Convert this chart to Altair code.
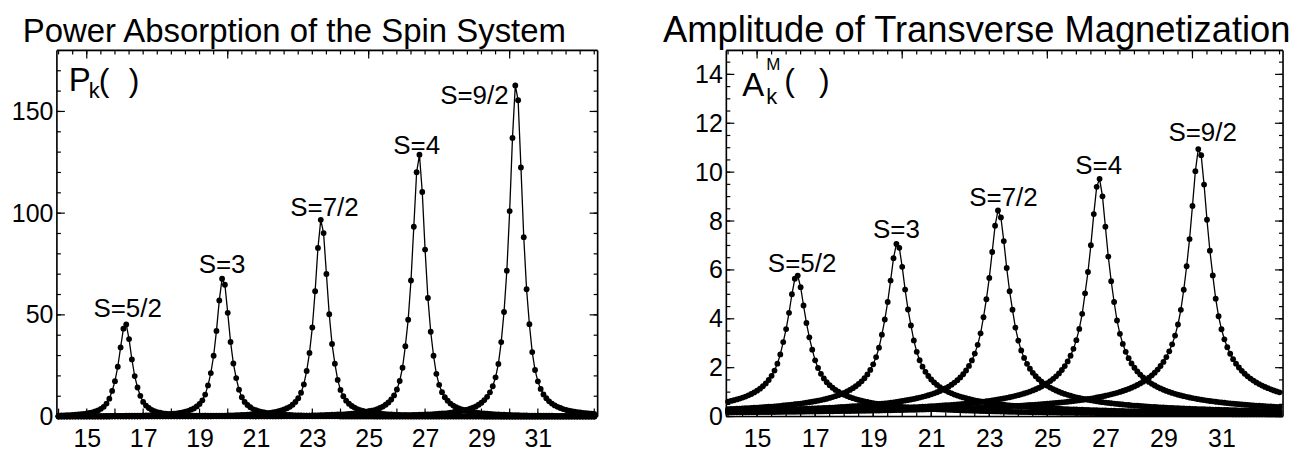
import altair as alt
import pandas as pd

# ---------------- data ----------------
X = [
    14.0, 14.1, 14.2, 14.3, 14.4, 14.5, 14.6, 14.7, 14.8, 14.9,
    15.0, 15.1, 15.2, 15.3, 15.4, 15.5, 15.6, 15.7, 15.8, 15.9,
    16.0, 16.1, 16.2, 16.3, 16.4, 16.5, 16.6, 16.7, 16.8, 16.9,
    17.0, 17.1, 17.2, 17.3, 17.4, 17.5, 17.6, 17.7, 17.8, 17.9,
    18.0, 18.1, 18.2, 18.3, 18.4, 18.5, 18.6, 18.7, 18.8, 18.9,
    19.0, 19.1, 19.2, 19.3, 19.4, 19.5, 19.6, 19.7, 19.8, 19.9,
    20.0, 20.1, 20.2, 20.3, 20.4, 20.5, 20.6, 20.7, 20.8, 20.9,
    21.0, 21.1, 21.2, 21.3, 21.4, 21.5, 21.6, 21.7, 21.8, 21.9,
    22.0, 22.1, 22.2, 22.3, 22.4, 22.5, 22.6, 22.7, 22.8, 22.9,
    23.0, 23.1, 23.2, 23.3, 23.4, 23.5, 23.6, 23.7, 23.8, 23.9,
    24.0, 24.1, 24.2, 24.3, 24.4, 24.5, 24.6, 24.7, 24.8, 24.9,
    25.0, 25.1, 25.2, 25.3, 25.4, 25.5, 25.6, 25.7, 25.8, 25.9,
    26.0, 26.1, 26.2, 26.3, 26.4, 26.5, 26.6, 26.7, 26.8, 26.9,
    27.0, 27.1, 27.2, 27.3, 27.4, 27.5, 27.6, 27.7, 27.8, 27.9,
    28.0, 28.1, 28.2, 28.3, 28.4, 28.5, 28.6, 28.7, 28.8, 28.9,
    29.0, 29.1, 29.2, 29.3, 29.4, 29.5, 29.6, 29.7, 29.8, 29.9,
    30.0, 30.1, 30.2, 30.3, 30.4, 30.5, 30.6, 30.7, 30.8, 30.9,
    31.0, 31.1, 31.2, 31.3, 31.4, 31.5, 31.6, 31.7, 31.8, 31.9,
    32.0, 32.1, 32.2, 32.3, 32.4, 32.5, 32.6, 32.7, 32.8, 32.9,
    33.0,
]

# Amplitude of transverse magnetization (right panel)
A_S52 = [
    0.612, 0.639, 0.668, 0.700, 0.736, 0.775, 0.819, 0.868, 0.924, 0.986,
    1.058, 1.142, 1.239, 1.355, 1.495, 1.667, 1.883, 2.164, 2.544, 3.046,
    3.578, 4.245, 5.004, 5.638, 5.769, 5.293, 4.544, 3.829, 3.243, 2.736,
    2.302, 1.986, 1.747, 1.559, 1.408, 1.283, 1.179, 1.090, 1.014, 0.948,
    0.890, 0.838, 0.792, 0.751, 0.714, 0.681, 0.650, 0.622, 0.597, 0.573,
    0.551, 0.531, 0.512, 0.495, 0.479, 0.463, 0.449, 0.435, 0.423, 0.411,
    0.399, 0.389, 0.379, 0.369, 0.360, 0.351, 0.343, 0.335, 0.327, 0.320,
    0.313, 0.307, 0.300, 0.294, 0.288, 0.283, 0.277, 0.272, 0.267, 0.262,
    0.258, 0.253, 0.249, 0.245, 0.240, 0.237, 0.233, 0.229, 0.226, 0.222,
    0.219, 0.215, 0.212, 0.209, 0.206, 0.203, 0.200, 0.198, 0.195, 0.192,
    0.190, 0.187, 0.185, 0.183, 0.181, 0.178, 0.176, 0.174, 0.172, 0.170,
    0.168, 0.166, 0.164, 0.162, 0.161, 0.159, 0.157, 0.155, 0.154, 0.152,
    0.150, 0.149, 0.147, 0.146, 0.145, 0.143, 0.142, 0.140, 0.139, 0.138,
    0.136, 0.135, 0.134, 0.133, 0.131, 0.130, 0.129, 0.128, 0.127, 0.126,
    0.125, 0.124, 0.123, 0.122, 0.121, 0.120, 0.119, 0.118, 0.117, 0.116,
    0.115, 0.114, 0.113, 0.112, 0.111, 0.110, 0.110, 0.109, 0.108, 0.107,
    0.106, 0.106, 0.105, 0.104, 0.103, 0.103, 0.102, 0.101, 0.101, 0.100,
    0.099, 0.099, 0.098, 0.097, 0.096, 0.096, 0.095, 0.095, 0.094, 0.093,
    0.093, 0.092, 0.092, 0.091, 0.090, 0.090, 0.089, 0.089, 0.088, 0.088,
    0.087,
]
A_S3 = [
    0.304, 0.310, 0.315, 0.321, 0.327, 0.333, 0.339, 0.346, 0.353, 0.360,
    0.367, 0.375, 0.383, 0.392, 0.401, 0.410, 0.420, 0.430, 0.440, 0.452,
    0.463, 0.476, 0.489, 0.503, 0.517, 0.533, 0.550, 0.567, 0.586, 0.606,
    0.627, 0.650, 0.675, 0.702, 0.730, 0.762, 0.796, 0.833, 0.874, 0.920,
    0.970, 1.026, 1.089, 1.160, 1.241, 1.335, 1.443, 1.571, 1.723, 1.909,
    2.139, 2.432, 2.817, 3.349, 3.970, 4.687, 5.563, 6.479, 7.062, 6.902,
    6.125, 5.196, 4.380, 3.728, 3.114, 2.649, 2.305, 2.040, 1.830, 1.659,
    1.517, 1.398, 1.296, 1.207, 1.131, 1.063, 1.003, 0.949, 0.901, 0.857,
    0.818, 0.782, 0.749, 0.719, 0.691, 0.665, 0.641, 0.618, 0.598, 0.578,
    0.560, 0.543, 0.527, 0.512, 0.497, 0.484, 0.471, 0.459, 0.447, 0.436,
    0.426, 0.416, 0.406, 0.397, 0.388, 0.380, 0.372, 0.364, 0.357, 0.350,
    0.343, 0.337, 0.331, 0.324, 0.319, 0.313, 0.308, 0.302, 0.297, 0.292,
    0.288, 0.283, 0.279, 0.274, 0.270, 0.266, 0.262, 0.258, 0.255, 0.251,
    0.248, 0.244, 0.241, 0.238, 0.234, 0.231, 0.228, 0.226, 0.223, 0.220,
    0.217, 0.215, 0.212, 0.210, 0.207, 0.205, 0.202, 0.200, 0.198, 0.196,
    0.194, 0.191, 0.189, 0.187, 0.185, 0.184, 0.182, 0.180, 0.178, 0.176,
    0.175, 0.173, 0.171, 0.170, 0.168, 0.166, 0.165, 0.163, 0.162, 0.160,
    0.159, 0.157, 0.156, 0.155, 0.153, 0.152, 0.151, 0.150, 0.148, 0.147,
    0.146, 0.145, 0.143, 0.142, 0.141, 0.140, 0.139, 0.138, 0.137, 0.136,
    0.135,
]
A_S72 = [
    0.227, 0.229, 0.232, 0.234, 0.237, 0.240, 0.242, 0.245, 0.248, 0.251,
    0.254, 0.257, 0.260, 0.263, 0.267, 0.270, 0.274, 0.277, 0.281, 0.285,
    0.289, 0.293, 0.297, 0.301, 0.305, 0.310, 0.314, 0.319, 0.324, 0.329,
    0.334, 0.340, 0.345, 0.351, 0.357, 0.363, 0.369, 0.376, 0.383, 0.390,
    0.397, 0.405, 0.413, 0.421, 0.429, 0.438, 0.448, 0.457, 0.467, 0.478,
    0.489, 0.501, 0.513, 0.525, 0.539, 0.553, 0.568, 0.584, 0.600, 0.618,
    0.636, 0.656, 0.677, 0.699, 0.723, 0.749, 0.777, 0.806, 0.838, 0.873,
    0.911, 0.952, 0.996, 1.046, 1.100, 1.161, 1.228, 1.304, 1.390, 1.488,
    1.600, 1.732, 1.886, 2.071, 2.296, 2.576, 2.934, 3.407, 4.063, 4.801,
    5.674, 6.732, 7.808, 8.430, 8.146, 7.179, 6.079, 5.127, 4.369, 3.642,
    3.107, 2.708, 2.401, 2.156, 1.956, 1.790, 1.650, 1.531, 1.427, 1.337,
    1.257, 1.187, 1.124, 1.067, 1.016, 0.969, 0.927, 0.888, 0.852, 0.819,
    0.788, 0.760, 0.733, 0.709, 0.686, 0.664, 0.644, 0.625, 0.607, 0.590,
    0.574, 0.559, 0.544, 0.531, 0.518, 0.505, 0.494, 0.482, 0.472, 0.461,
    0.451, 0.442, 0.433, 0.424, 0.416, 0.408, 0.400, 0.393, 0.385, 0.379,
    0.372, 0.365, 0.359, 0.353, 0.347, 0.342, 0.336, 0.331, 0.326, 0.321,
    0.316, 0.312, 0.307, 0.303, 0.298, 0.294, 0.290, 0.286, 0.282, 0.279,
    0.275, 0.272, 0.268, 0.265, 0.261, 0.258, 0.255, 0.252, 0.249, 0.246,
    0.243, 0.241, 0.238, 0.235, 0.233, 0.230, 0.228, 0.225, 0.223, 0.221,
    0.218,
]
A_S4 = [
    0.191, 0.192, 0.194, 0.195, 0.197, 0.198, 0.200, 0.202, 0.203, 0.205,
    0.207, 0.209, 0.210, 0.212, 0.214, 0.216, 0.218, 0.220, 0.222, 0.224,
    0.226, 0.228, 0.230, 0.233, 0.235, 0.237, 0.239, 0.242, 0.244, 0.247,
    0.249, 0.252, 0.254, 0.257, 0.260, 0.263, 0.266, 0.268, 0.271, 0.274,
    0.278, 0.281, 0.284, 0.287, 0.291, 0.294, 0.298, 0.302, 0.305, 0.309,
    0.313, 0.317, 0.322, 0.326, 0.330, 0.335, 0.339, 0.344, 0.349, 0.354,
    0.360, 0.365, 0.370, 0.376, 0.382, 0.388, 0.394, 0.401, 0.408, 0.415,
    0.422, 0.429, 0.437, 0.445, 0.453, 0.462, 0.471, 0.480, 0.489, 0.499,
    0.510, 0.521, 0.532, 0.544, 0.557, 0.570, 0.583, 0.597, 0.612, 0.628,
    0.645, 0.662, 0.681, 0.700, 0.721, 0.743, 0.767, 0.791, 0.818, 0.846,
    0.877, 0.910, 0.945, 0.983, 1.024, 1.069, 1.118, 1.172, 1.231, 1.297,
    1.369, 1.451, 1.543, 1.647, 1.766, 1.904, 2.066, 2.257, 2.487, 2.770,
    3.125, 3.585, 4.203, 5.042, 5.915, 7.014, 8.284, 9.399, 9.727, 9.009,
    7.768, 6.547, 5.540, 4.688, 3.931, 3.385, 2.973, 2.649, 2.390, 2.176,
    1.998, 1.847, 1.717, 1.604, 1.505, 1.417, 1.339, 1.270, 1.207, 1.150,
    1.098, 1.051, 1.007, 0.967, 0.930, 0.896, 0.864, 0.835, 0.807, 0.781,
    0.757, 0.734, 0.713, 0.692, 0.673, 0.655, 0.638, 0.622, 0.606, 0.592,
    0.578, 0.564, 0.551, 0.539, 0.528, 0.516, 0.506, 0.495, 0.486, 0.476,
    0.467, 0.458, 0.450, 0.442, 0.434, 0.426, 0.419, 0.412, 0.405, 0.398,
    0.392,
]
A_S92 = [
    0.169, 0.170, 0.172, 0.173, 0.174, 0.175, 0.176, 0.177, 0.178, 0.179,
    0.181, 0.182, 0.183, 0.184, 0.185, 0.187, 0.188, 0.189, 0.191, 0.192,
    0.193, 0.195, 0.196, 0.197, 0.199, 0.200, 0.202, 0.203, 0.205, 0.206,
    0.208, 0.209, 0.211, 0.213, 0.214, 0.216, 0.218, 0.219, 0.221, 0.223,
    0.225, 0.227, 0.229, 0.231, 0.232, 0.234, 0.236, 0.239, 0.241, 0.243,
    0.245, 0.247, 0.249, 0.252, 0.254, 0.256, 0.259, 0.261, 0.264, 0.266,
    0.269, 0.271, 0.274, 0.277, 0.280, 0.283, 0.286, 0.289, 0.292, 0.295,
    0.298, 0.301, 0.305, 0.308, 0.311, 0.315, 0.319, 0.322, 0.326, 0.330,
    0.334, 0.338, 0.342, 0.347, 0.351, 0.356, 0.360, 0.365, 0.370, 0.375,
    0.380, 0.386, 0.391, 0.397, 0.403, 0.409, 0.415, 0.421, 0.428, 0.434,
    0.441, 0.449, 0.456, 0.464, 0.472, 0.480, 0.488, 0.497, 0.506, 0.516,
    0.526, 0.536, 0.547, 0.558, 0.569, 0.581, 0.594, 0.607, 0.621, 0.635,
    0.650, 0.666, 0.682, 0.700, 0.718, 0.737, 0.758, 0.779, 0.802, 0.826,
    0.851, 0.879, 0.908, 0.939, 0.972, 1.007, 1.046, 1.087, 1.132, 1.180,
    1.233, 1.291, 1.355, 1.425, 1.503, 1.590, 1.687, 1.797, 1.923, 2.068,
    2.236, 2.434, 2.670, 2.957, 3.313, 3.767, 4.365, 5.189, 6.151, 7.261,
    8.619, 10.038, 10.942, 10.693, 9.490, 8.051, 6.786, 5.776, 4.825, 4.104,
    3.571, 3.161, 2.835, 2.570, 2.350, 2.165, 2.007, 1.871, 1.752, 1.647,
    1.554, 1.471, 1.396, 1.329, 1.267, 1.211, 1.160, 1.113, 1.070, 1.030,
    0.993,
]

# Power absorption (left panel)
P_S52 = [
    0.5, 0.6, 0.6, 0.7, 0.7, 0.8, 0.9, 1.0, 1.2, 1.3,
    1.5, 1.8, 2.1, 2.5, 3.0, 3.8, 4.8, 6.4, 8.8, 12.6,
    17.4, 24.5, 34.0, 43.2, 45.3, 38.1, 28.1, 19.9, 14.3, 10.2,
    7.2, 5.4, 4.2, 3.3, 2.7, 2.2, 1.9, 1.6, 1.4, 1.2,
    1.1, 1.0, 0.9, 0.8, 0.7, 0.6, 0.6, 0.5, 0.5, 0.4,
    0.4, 0.4, 0.4, 0.3, 0.3, 0.3, 0.3, 0.3, 0.2, 0.2,
    0.2, 0.2, 0.2, 0.2, 0.2, 0.2, 0.2, 0.2, 0.1, 0.1,
    0.1, 0.1, 0.1, 0.1, 0.1, 0.1, 0.1, 0.1, 0.1, 0.1,
    0.1, 0.1, 0.1, 0.1, 0.1, 0.1, 0.1, 0.1, 0.1, 0.1,
    0.1, 0.1, 0.1, 0.1, 0.1, 0.1, 0.1, 0.1, 0.1, 0.1,
    0, 0, 0, 0, 0, 0, 0, 0, 0, 0,
    0, 0, 0, 0, 0, 0, 0, 0, 0, 0,
    0, 0, 0, 0, 0, 0, 0, 0, 0, 0,
    0, 0, 0, 0, 0, 0, 0, 0, 0, 0,
    0, 0, 0, 0, 0, 0, 0, 0, 0, 0,
    0, 0, 0, 0, 0, 0, 0, 0, 0, 0,
    0, 0, 0, 0, 0, 0, 0, 0, 0, 0,
    0, 0, 0, 0, 0, 0, 0, 0, 0, 0,
    0, 0, 0, 0, 0, 0, 0, 0, 0, 0,
    0,
]
P_S3 = [
    0.1, 0.1, 0.1, 0.1, 0.1, 0.2, 0.2, 0.2, 0.2, 0.2,
    0.2, 0.2, 0.2, 0.2, 0.2, 0.2, 0.2, 0.3, 0.3, 0.3,
    0.3, 0.3, 0.3, 0.3, 0.4, 0.4, 0.4, 0.4, 0.5, 0.5,
    0.5, 0.6, 0.6, 0.7, 0.7, 0.8, 0.9, 0.9, 1.0, 1.2,
    1.3, 1.4, 1.6, 1.8, 2.1, 2.4, 2.8, 3.4, 4.0, 5.0,
    6.2, 8.0, 10.8, 15.3, 21.4, 29.9, 42.1, 57.1, 67.8, 64.8,
    51.0, 36.7, 26.1, 18.9, 13.2, 9.5, 7.2, 5.7, 4.6, 3.7,
    3.1, 2.7, 2.3, 2.0, 1.7, 1.5, 1.4, 1.2, 1.1, 1.0,
    0.9, 0.8, 0.8, 0.7, 0.6, 0.6, 0.6, 0.5, 0.5, 0.5,
    0.4, 0.4, 0.4, 0.4, 0.3, 0.3, 0.3, 0.3, 0.3, 0.3,
    0.2, 0.2, 0.2, 0.2, 0.2, 0.2, 0.2, 0.2, 0.2, 0.2,
    0.2, 0.2, 0.1, 0.1, 0.1, 0.1, 0.1, 0.1, 0.1, 0.1,
    0.1, 0.1, 0.1, 0.1, 0.1, 0.1, 0.1, 0.1, 0.1, 0.1,
    0.1, 0.1, 0.1, 0.1, 0.1, 0.1, 0.1, 0.1, 0.1, 0.1,
    0.1, 0.1, 0.1, 0.1, 0.1, 0.1, 0.1, 0.1, 0.1, 0.1,
    0.1, 0, 0, 0, 0, 0, 0, 0, 0, 0,
    0, 0, 0, 0, 0, 0, 0, 0, 0, 0,
    0, 0, 0, 0, 0, 0, 0, 0, 0, 0,
    0, 0, 0, 0, 0, 0, 0, 0, 0, 0,
    0,
]
P_S72 = [
    0.1, 0.1, 0.1, 0.1, 0.1, 0.1, 0.1, 0.1, 0.1, 0.1,
    0.1, 0.1, 0.1, 0.1, 0.1, 0.1, 0.1, 0.1, 0.1, 0.1,
    0.1, 0.1, 0.1, 0.1, 0.1, 0.1, 0.1, 0.1, 0.1, 0.1,
    0.2, 0.2, 0.2, 0.2, 0.2, 0.2, 0.2, 0.2, 0.2, 0.2,
    0.2, 0.2, 0.2, 0.2, 0.3, 0.3, 0.3, 0.3, 0.3, 0.3,
    0.3, 0.3, 0.4, 0.4, 0.4, 0.4, 0.4, 0.5, 0.5, 0.5,
    0.6, 0.6, 0.6, 0.7, 0.7, 0.8, 0.8, 0.9, 1.0, 1.0,
    1.1, 1.2, 1.4, 1.5, 1.6, 1.8, 2.1, 2.3, 2.6, 3.0,
    3.5, 4.1, 4.8, 5.8, 7.2, 9.0, 11.7, 15.8, 22.4, 31.3,
    43.8, 61.6, 82.9, 96.7, 90.2, 70.1, 50.3, 35.7, 26.0, 18.0,
    13.1, 10.0, 7.8, 6.3, 5.2, 4.4, 3.7, 3.2, 2.8, 2.4,
    2.2, 1.9, 1.7, 1.5, 1.4, 1.3, 1.2, 1.1, 1.0, 0.9,
    0.8, 0.8, 0.7, 0.7, 0.6, 0.6, 0.6, 0.5, 0.5, 0.5,
    0.4, 0.4, 0.4, 0.4, 0.4, 0.3, 0.3, 0.3, 0.3, 0.3,
    0.3, 0.3, 0.3, 0.2, 0.2, 0.2, 0.2, 0.2, 0.2, 0.2,
    0.2, 0.2, 0.2, 0.2, 0.2, 0.2, 0.2, 0.1, 0.1, 0.1,
    0.1, 0.1, 0.1, 0.1, 0.1, 0.1, 0.1, 0.1, 0.1, 0.1,
    0.1, 0.1, 0.1, 0.1, 0.1, 0.1, 0.1, 0.1, 0.1, 0.1,
    0.1, 0.1, 0.1, 0.1, 0.1, 0.1, 0.1, 0.1, 0.1, 0.1,
    0.1,
]
P_S4 = [
    0, 0.1, 0.1, 0.1, 0.1, 0.1, 0.1, 0.1, 0.1, 0.1,
    0.1, 0.1, 0.1, 0.1, 0.1, 0.1, 0.1, 0.1, 0.1, 0.1,
    0.1, 0.1, 0.1, 0.1, 0.1, 0.1, 0.1, 0.1, 0.1, 0.1,
    0.1, 0.1, 0.1, 0.1, 0.1, 0.1, 0.1, 0.1, 0.1, 0.1,
    0.1, 0.1, 0.1, 0.1, 0.1, 0.1, 0.1, 0.1, 0.1, 0.1,
    0.1, 0.1, 0.1, 0.1, 0.1, 0.2, 0.2, 0.2, 0.2, 0.2,
    0.2, 0.2, 0.2, 0.2, 0.2, 0.2, 0.2, 0.2, 0.2, 0.2,
    0.2, 0.3, 0.3, 0.3, 0.3, 0.3, 0.3, 0.3, 0.3, 0.3,
    0.4, 0.4, 0.4, 0.4, 0.4, 0.4, 0.5, 0.5, 0.5, 0.5,
    0.6, 0.6, 0.6, 0.7, 0.7, 0.8, 0.8, 0.9, 0.9, 1.0,
    1.0, 1.1, 1.2, 1.3, 1.4, 1.6, 1.7, 1.9, 2.1, 2.3,
    2.6, 2.9, 3.2, 3.7, 4.2, 4.9, 5.8, 6.9, 8.4, 10.4,
    13.3, 17.5, 24.0, 34.6, 47.6, 66.9, 93.3, 120.1, 128.7, 110.4,
    82.1, 58.3, 41.7, 29.9, 21.0, 15.6, 12.0, 9.5, 7.8, 6.4,
    5.4, 4.6, 4.0, 3.5, 3.1, 2.7, 2.4, 2.2, 2.0, 1.8,
    1.6, 1.5, 1.4, 1.3, 1.2, 1.1, 1.0, 0.9, 0.9, 0.8,
    0.8, 0.7, 0.7, 0.7, 0.6, 0.6, 0.6, 0.5, 0.5, 0.5,
    0.5, 0.4, 0.4, 0.4, 0.4, 0.4, 0.3, 0.3, 0.3, 0.3,
    0.3, 0.3, 0.3, 0.3, 0.3, 0.2, 0.2, 0.2, 0.2, 0.2,
    0.2,
]
P_S92 = [
    0, 0, 0, 0, 0, 0, 0, 0, 0, 0,
    0, 0, 0, 0, 0, 0, 0, 0, 0, 0.1,
    0.1, 0.1, 0.1, 0.1, 0.1, 0.1, 0.1, 0.1, 0.1, 0.1,
    0.1, 0.1, 0.1, 0.1, 0.1, 0.1, 0.1, 0.1, 0.1, 0.1,
    0.1, 0.1, 0.1, 0.1, 0.1, 0.1, 0.1, 0.1, 0.1, 0.1,
    0.1, 0.1, 0.1, 0.1, 0.1, 0.1, 0.1, 0.1, 0.1, 0.1,
    0.1, 0.1, 0.1, 0.1, 0.1, 0.1, 0.1, 0.1, 0.1, 0.1,
    0.1, 0.1, 0.1, 0.1, 0.1, 0.1, 0.1, 0.1, 0.1, 0.1,
    0.2, 0.2, 0.2, 0.2, 0.2, 0.2, 0.2, 0.2, 0.2, 0.2,
    0.2, 0.2, 0.2, 0.2, 0.2, 0.2, 0.2, 0.2, 0.2, 0.3,
    0.3, 0.3, 0.3, 0.3, 0.3, 0.3, 0.3, 0.3, 0.3, 0.4,
    0.4, 0.4, 0.4, 0.4, 0.4, 0.5, 0.5, 0.5, 0.5, 0.5,
    0.6, 0.6, 0.6, 0.7, 0.7, 0.7, 0.8, 0.8, 0.9, 0.9,
    1.0, 1.0, 1.1, 1.2, 1.3, 1.4, 1.5, 1.6, 1.7, 1.9,
    2.1, 2.3, 2.5, 2.8, 3.1, 3.4, 3.9, 4.4, 5.0, 5.8,
    6.8, 8.1, 9.7, 11.9, 14.9, 19.3, 25.9, 36.6, 51.4, 71.7,
    101.0, 137.0, 162.8, 155.5, 122.5, 88.2, 62.6, 45.4, 31.7, 22.9,
    17.3, 13.6, 10.9, 9.0, 7.5, 6.4, 5.5, 4.8, 4.2, 3.7,
    3.3, 2.9, 2.7, 2.4, 2.2, 2.0, 1.8, 1.7, 1.6, 1.4,
    1.3,
]

CURVES = ["S=5/2", "S=3", "S=7/2", "S=4", "S=9/2"]
A_SERIES = [A_S52, A_S3, A_S72, A_S4, A_S92]
P_SERIES = [P_S52, P_S3, P_S72, P_S4, P_S92]

# curve annotations (data coordinates)
P_LABEL_X = [16.45, 19.80, 23.43, 26.70, 28.75]
P_LABEL_Y = [53.0, 74.5, 102.5, 133.0, 157.5]
A_LABEL_X = [16.55, 19.80, 23.49, 26.77, 30.35]
A_LABEL_Y = [6.23, 7.64, 8.95, 10.25, 11.60]

# axis labels and frame ticks
X_LABELS = [15, 17, 19, 21, 23, 25, 27, 29, 31]
P_LABELS = [0, 50, 100, 150]
A_LABELS = [0, 2, 4, 6, 8, 10, 12, 14]
X_INT_TICKS = [14, 15, 16, 17, 18, 19, 20, 21, 22, 23, 24, 25, 26, 27, 28, 29, 30, 31, 32, 33]
X_HALF_TICKS = [14.0, 14.5, 15.0, 15.5, 16.0, 16.5, 17.0, 17.5, 18.0, 18.5, 19.0, 19.5,
                20.0, 20.5, 21.0, 21.5, 22.0, 22.5, 23.0, 23.5, 24.0, 24.5, 25.0, 25.5,
                26.0, 26.5, 27.0, 27.5, 28.0, 28.5, 29.0, 29.5, 30.0, 30.5, 31.0, 31.5,
                32.0, 32.5, 33.0]
X_TOP_MAJOR = [15, 20, 25, 30]
P_MINOR = [0, 10, 20, 30, 40, 50, 60, 70, 80, 90, 100, 110, 120, 130, 140, 150, 160, 170]
A_MINOR = [0.0, 0.5, 1.0, 1.5, 2.0, 2.5, 3.0, 3.5, 4.0, 4.5, 5.0, 5.5, 6.0, 6.5, 7.0, 7.5,
           8.0, 8.5, 9.0, 9.5, 10.0, 10.5, 11.0, 11.5, 12.0, 12.5, 13.0, 13.5, 14.0, 14.5]

for s in A_SERIES + P_SERIES:
    assert len(s) == len(X), len(s)

rows = []
for name, a_vals, p_vals in zip(CURVES, A_SERIES, P_SERIES):
    for xv, av, pv in zip(X, a_vals, p_vals):
        rows.append({"curve": name, "x": xv, "A": av, "P": pv})
df = pd.DataFrame(rows)

FONT = "Liberation Sans"
XDOM = [13.94, 33.12]
VIEW_H = 367


def panel(field, ymax, ylabels, W, lab_x, lab_y, y_minor, y_major, bottom_minor,
          bottom_major, glyphs, title, title_size, title_cx, title_y):
    H = VIEW_H
    xs = alt.Scale(domain=XDOM, nice=False, zero=False)
    ys = alt.Scale(domain=[0, ymax], nice=False, zero=False)
    ax_x = alt.Axis(values=X_LABELS, ticks=False, domain=False, grid=False, labelFontSize=25,
                    labelFont=FONT, labelColor="black", labelPadding=10, title=None,
                    labelFlush=False, labelOverlap=False, format="d")
    ax_y = alt.Axis(values=ylabels, ticks=False, domain=False, grid=False, labelFontSize=25,
                    labelFont=FONT, labelColor="black", labelPadding=4, title=None,
                    labelFlush=False, labelOverlap=False, format="d")

    def X_(f):
        return alt.X(f, type="quantitative", scale=xs, axis=ax_x, title=None)

    def Y_(f):
        return alt.Y(f, type="quantitative", scale=ys, axis=ax_y, title=None)

    base = alt.Chart(df)
    line = base.mark_line(color="black", strokeWidth=1.3).encode(
        x=X_("x"), y=Y_(field), detail="curve:N", order="x:Q")
    pts = base.mark_circle(color="black", size=34, opacity=1).encode(
        x=X_("x"), y=Y_(field), detail="curve:N")

    def xt(vals, y0, y1):
        return alt.Chart(pd.DataFrame({"x": vals})).mark_rule(color="black", strokeWidth=1.2).encode(
            x=X_("x"), y=alt.value(y0), y2=alt.value(y1))

    def yt(vals, x0, x1):
        return alt.Chart(pd.DataFrame({field: vals})).mark_rule(color="black", strokeWidth=1.2).encode(
            y=Y_(field), x=alt.value(x0), x2=alt.value(x1))

    one = pd.DataFrame({"k": [0]})

    def frame_h(y):
        return alt.Chart(one).mark_rule(color="black", strokeWidth=1.6).encode(
            x=alt.value(0), x2=alt.value(W), y=alt.value(y))

    def frame_v(x):
        return alt.Chart(one).mark_rule(color="black", strokeWidth=1.6).encode(
            x=alt.value(x), y=alt.value(0), y2=alt.value(H))

    layers = [
        xt(bottom_minor, H, H - 4), xt(bottom_major, H, H - 8),
        xt(X_HALF_TICKS, 0, 4), xt(X_TOP_MAJOR, 0, 8),
        yt(y_minor, 0, 4), yt(y_major, 0, 8),
        yt(y_minor, W, W - 4), yt(y_major, W, W - 8),
        frame_h(0), frame_h(H), frame_v(0), frame_v(W),
    ]
    labs = alt.Chart(pd.DataFrame({"x": lab_x, field: lab_y, "t": CURVES})).mark_text(
        font=FONT, fontSize=26, color="black", align="center", baseline="middle").encode(
        x=X_("x"), y=Y_(field), text="t:N")
    gl = []
    for txt, px, py, size in glyphs:
        gl.append(alt.Chart(pd.DataFrame({"t": [txt]})).mark_text(
            font=FONT, fontSize=size, color="black", align="left", baseline="alphabetic").encode(
            x=alt.value(px), y=alt.value(py), text="t:N"))
    ttl = alt.Chart(pd.DataFrame({"t": [title]})).mark_text(
        font=FONT, fontSize=title_size, color="black", align="center", baseline="alphabetic").encode(
        x=alt.value(title_cx), y=alt.value(title_y), text="t:N")
    return alt.layer(line, pts, *layers, labs, *gl, ttl).properties(width=W, height=H)


left = panel(
    "P", 180, P_LABELS, 542, P_LABEL_X, P_LABEL_Y, P_MINOR, P_LABELS,
    X_INT_TICKS, X_INT_TICKS,
    [("P", 12, 41, 33), ("k", 32, 48, 22), ("(", 42, 41, 32), (")", 72, 41, 32)],
    "Power Absorption of the Spin System", 33, 238, -8,
)
right = panel(
    "A", 14.98, A_LABELS, 558, A_LABEL_X, A_LABEL_Y, A_MINOR, A_LABELS,
    X_HALF_TICKS, X_LABELS,
    [("A", 16, 46, 33), ("M", 40, 20, 17), ("k", 40, 54, 22), ("(", 58, 41, 32), (")", 93, 41, 32)],
    "Amplitude of Transverse Magnetization", 36.4, 251, -8,
)

chart = alt.hconcat(
    left, right, spacing=129, bounds="flush",
    padding={"left": 2, "top": 4, "right": 0, "bottom": 0},
).configure_view(stroke="transparent").configure(background="white")

chart.save("out.html", embed_options={"renderer": "svg", "actions": False})
